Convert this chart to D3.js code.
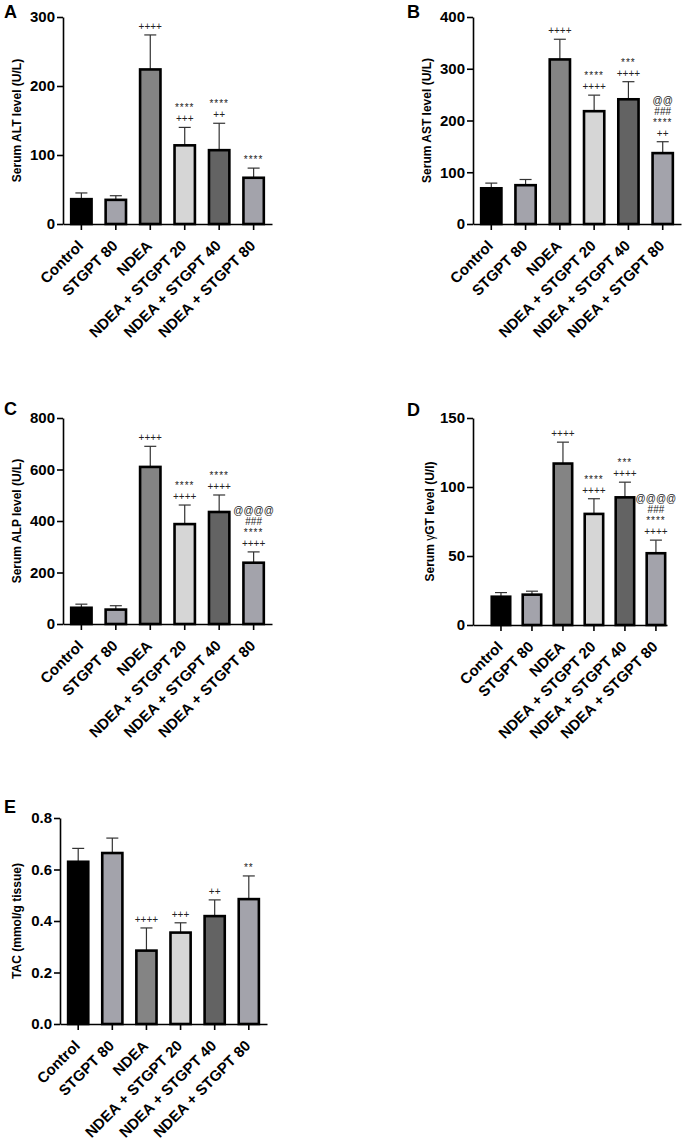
<!DOCTYPE html>
<html>
<head>
<meta charset="utf-8">
<script src="https://cdn.jsdelivr.net/npm/d3@7"></script>
<style>
body { margin: 0; background: #fff; }
svg text { font-family: Arial, "Liberation Sans", Helvetica, sans-serif; }
</style>
</head>
<body>
<div id="chart"></div>
<script>
// groups on the x axis (same in every panel)
var groups = ['Control', 'STGPT 80', 'NDEA', 'NDEA + STGPT 20', 'NDEA + STGPT 40', 'NDEA + STGPT 80'];
var groupColors = ['#000000', '#a3a3ab', '#848484', '#d6d6d6', '#636363', '#a3a3ab'];

// A - ALT
var altMean = [36, 35, 224, 114, 107, 67];
var altSD = [9, 6, 50, 26, 39, 14];
var altTicks = [0, 100, 200, 300];
var altMarks = [[], [], ['++++'], ['****', '+++'], ['****', '++'], ['****']];

// B - AST
var astMean = [69, 75, 318, 218, 241, 137];
var astSD = [10, 11, 39, 31, 34, 22];
var astTicks = [0, 100, 200, 300, 400];
var astMarks = [[], [], ['++++'], ['****', '++++'], ['***', '++++'], ['@@', '###', '****', '++']];

// C - ALP
var alpMean = [63, 56, 610, 388, 435, 238];
var alpSD = [14, 15, 80, 74, 66, 42];
var alpTicks = [0, 200, 400, 600, 800];
var alpMarks = [[], [], ['++++'], ['****', '++++'], ['****', '++++'], ['@@@@', '###', '****', '++++']];

// D - gGT
var ggtMean = [20.5, 22, 117, 80.5, 92.5, 52];
var ggtSD = [3, 2.5, 15.5, 11, 11, 9.5];
var ggtTicks = [0, 50, 100, 150];
var ggtMarks = [[], [], ['++++'], ['****', '++++'], ['***', '++++'], ['@@@@', '###', '****', '++++']];

// E - TAC
var tacMean = [0.63, 0.664, 0.285, 0.355, 0.419, 0.485];
var tacSD = [0.052, 0.058, 0.088, 0.038, 0.063, 0.09];
var tacTicks = [0, 0.2, 0.4, 0.6, 0.8];
var tacMarks = [[], [], ['++++'], ['+++'], ['++'], ['**']];

var panels = [
	{letter: 'A', title: 'Serum ALT level (U/L)', mean: altMean, sd: altSD, ticks: altTicks, marks: altMarks, fmt: d3.format('d'),
		x0: 63, x1: 272, top: 17, bottom: 224, pi: 0.333, po: 0.2, align: 0.5, lx: 4, ly: 18, tx: 17},
	{letter: 'B', title: 'Serum AST level (U/L)', mean: astMean, sd: astSD, ticks: astTicks, marks: astMarks, fmt: d3.format('d'),
		x0: 473, x1: 681, top: 17, bottom: 224, pi: 0.333, po: 0.2, align: 0.5, lx: 407, ly: 18, tx: 427},
	{letter: 'C', title: 'Serum ALP level (U/L)', mean: alpMean, sd: alpSD, ticks: alpTicks, marks: alpMarks, fmt: d3.format('d'),
		x0: 63, x1: 272, top: 418, bottom: 624, pi: 0.333, po: 0.2, align: 0.5, lx: 4, ly: 415, tx: 17},
	{letter: 'D', title: null, mean: ggtMean, sd: ggtSD, ticks: ggtTicks, marks: ggtMarks, fmt: d3.format('d'),
		x0: 473, x1: 667, top: 418, bottom: 625, pi: 0.32, po: 0.29, align: 0.97, lx: 407, ly: 416, tx: 430},
	{letter: 'E', title: 'TAC (mmol/g tissue)', mean: tacMean, sd: tacSD, ticks: tacTicks, marks: tacMarks, fmt: d3.format('.1f'),
		x0: 60, x1: 267, top: 818, bottom: 1024, pi: 0.333, po: 0.2, align: 0.5, lx: 4, ly: 813, tx: 17}
];

var svg = d3.select('#chart').append('svg')
	.attr('width', 685).attr('height', 1145);

panels.forEach(function(p){
	var g = svg.append('g');

	var x = d3.scaleBand().domain(groups).range([p.x0, p.x1])
		.paddingInner(p.pi).paddingOuter(p.po).align(p.align);
	var y = d3.scaleLinear().domain([p.ticks[0], p.ticks[p.ticks.length - 1]])
		.range([p.bottom, p.top]);

	var rows = groups.map(function(d, i){
		return {name: d, mean: p.mean[i], sd: p.sd[i], marks: p.marks[i], color: groupColors[i]};
	});

	// error bars (upper only)
	var eb = g.selectAll('.err').data(rows).enter().append('g').attr('class', 'err')
		.attr('stroke', '#333').attr('stroke-width', 1.2);
	eb.append('line')
		.attr('x1', function(d){ return x(d.name) + x.bandwidth() / 2; })
		.attr('x2', function(d){ return x(d.name) + x.bandwidth() / 2; })
		.attr('y1', function(d){ return y(d.mean); })
		.attr('y2', function(d){ return y(d.mean + d.sd); });
	eb.append('line')
		.attr('x1', function(d){ return x(d.name) + x.bandwidth() / 2 - 6; })
		.attr('x2', function(d){ return x(d.name) + x.bandwidth() / 2 + 6; })
		.attr('y1', function(d){ return y(d.mean + d.sd); })
		.attr('y2', function(d){ return y(d.mean + d.sd); });

	// bars
	var sw = 2.6;
	g.selectAll('.bar').data(rows).enter().append('rect').attr('class', 'bar')
		.attr('x', function(d){ return x(d.name) + sw / 2; })
		.attr('width', x.bandwidth() - sw)
		.attr('y', function(d){ return y(d.mean); })
		.attr('height', function(d){ return p.bottom - y(d.mean); })
		.attr('fill', function(d){ return d.color; })
		.attr('stroke', '#000').attr('stroke-width', sw);

	// significance marks
	rows.forEach(function(d){
		var cx = x(d.name) + x.bandwidth() / 2;
		var base = y(d.mean + d.sd) - 5;
		var n = d.marks.length;
		d.marks.forEach(function(m, k){
			g.append('text')
				.attr('x', cx).attr('y', base - (n - 1 - k) * 11)
				.attr('text-anchor', 'middle')
				.attr('font-size', 10)
				.attr('letter-spacing', m.charAt(0) == '*' ? 1 : 0)
				.attr('fill', '#222')
				.text(m);
		});
	});

	// y axis
	var ya = g.append('g').attr('transform', 'translate(' + p.x0 + ',0)')
		.call(d3.axisLeft(y).tickValues(p.ticks).tickFormat(p.fmt).tickSize(6).tickSizeOuter(0));
	// x axis
	var xa = g.append('g').attr('transform', 'translate(0,' + p.bottom + ')')
		.call(d3.axisBottom(x).tickSize(6).tickSizeOuter(0));
	xa.selectAll('text').remove();
	[ya, xa].forEach(function(a){
		a.select('.domain').attr('stroke', '#000').attr('stroke-width', 1.6);
		a.selectAll('.tick line').attr('stroke', '#000').attr('stroke-width', 1.6);
	});
	ya.selectAll('text').attr('font-size', 15).attr('font-weight', 'bold').attr('fill', '#000')
		.attr('font-family', 'Arial, "Liberation Sans", sans-serif').attr('x', -8);

	groups.forEach(function(name){
		var cx = x(name) + x.bandwidth() / 2;
		g.append('text')
			.attr('transform', 'translate(' + [cx - 1, p.bottom + 19] + ') rotate(-45)')
			.attr('text-anchor', 'end')
			.attr('dy', '0.35em')
			.attr('font-size', 15).attr('font-weight', 'bold')
			.text(name);
	});

	// y title
	var t = g.append('text')
		.attr('transform', 'translate(' + [p.tx, (p.top + p.bottom) / 2] + ') rotate(-90)')
		.attr('text-anchor', 'middle')
		.attr('dy', '0.35em')
		.attr('font-size', 12).attr('font-weight', 'bold');
	if(p.title){
		t.text(p.title);
	}
	else{
		t.append('tspan').text('Serum ');
		t.append('tspan').attr('font-weight', 'normal').text('γ');
		t.append('tspan').text('GT level (U/l)');
	}

	// panel letter
	g.append('text')
		.attr('x', p.lx).attr('y', p.ly)
		.attr('font-size', 18).attr('font-weight', 'bold')
		.text(p.letter);
});
</script>
</body>
</html>
